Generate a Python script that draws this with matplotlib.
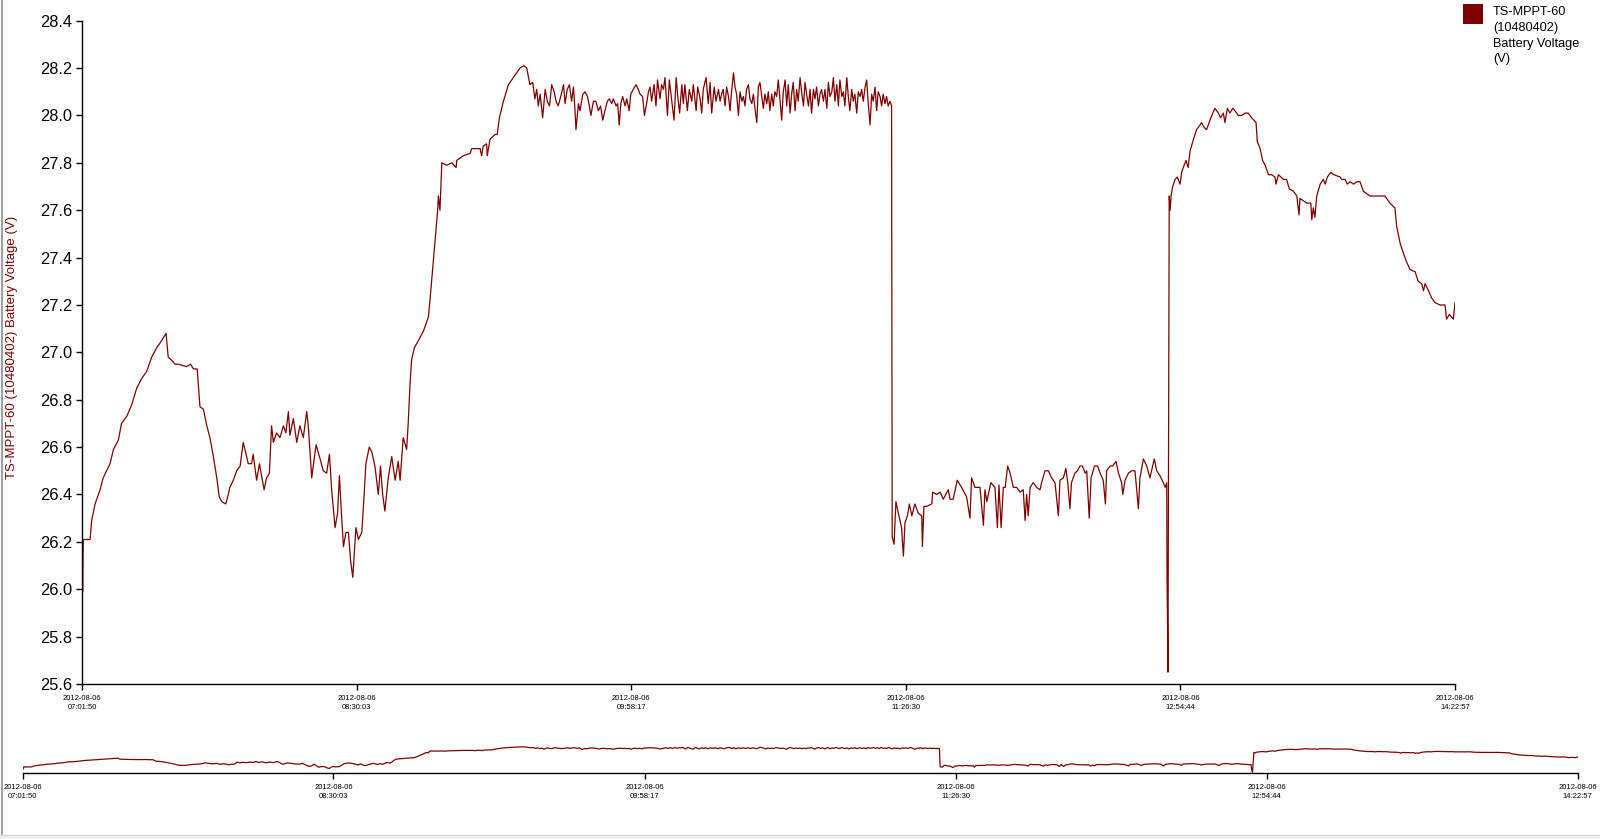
import pandas as pd
import numpy as np
import matplotlib
matplotlib.use("Agg")
import matplotlib.pyplot as plt
import matplotlib.dates as mdates
from matplotlib.patches import Rectangle
from matplotlib.lines import Line2D

plt.rcParams['font.family'] = ['Liberation Sans', 'DejaVu Sans']

series_name = "TS-MPPT-60 (10480402) Battery Voltage (V)"
start_time = "2012-08-06 07:01:50"
tick_times = ["2012-08-06 07:01:50", "2012-08-06 08:30:03", "2012-08-06 09:58:17",
              "2012-08-06 11:26:30", "2012-08-06 12:54:44", "2012-08-06 14:22:57"]

# minutes after 07:01:50
minutes = [
    0.0, 0.2, 0.4, 2.6, 3.1, 4.2, 5.8, 6.8, 9.0, 10.1, 11.7, 12.7, 14.4, 16.0, 17.6, 19.2,
    20.8, 22.4, 24.0, 25.1, 27.0, 27.7, 29.3, 29.9, 30.9, 33.6, 34.9, 35.8, 37.0, 37.9, 39.0,
    40.1, 41.1, 42.2, 43.3, 44.1, 44.9, 46.2, 47.0, 47.5, 48.6, 49.7, 50.8, 51.8, 52.9, 53.4,
    54.5, 55.0, 56.1, 57.0, 58.5, 59.3, 60.2, 60.9, 61.5, 62.5, 63.6, 64.7, 65.5, 66.3, 66.8,
    67.9, 69.0, 70.0, 71.1, 72.2, 72.7, 73.8, 75.2, 76.5, 77.5, 78.6, 79.5, 80.2, 81.3, 82.1,
    82.7, 83.4, 84.0, 84.8, 85.6, 86.3, 87.0, 88.0, 88.8, 89.9, 90.6, 91.2, 92.3, 93.1, 94.1,
    95.2, 95.9, 96.6, 97.3, 98.4, 99.5, 100.6, 101.6, 102.2, 103.2, 104.3, 104.8, 105.4, 105.9,
    106.8, 108.1, 109.7, 111.3, 111.8,
    113.4, 114.2, 114.5, 115.0, 115.6, 117.2, 118.8, 120.2, 120.4, 122.5, 124.7, 125.2, 127.9,
    128.4, 128.9, 130.0, 130.2, 131.1, 132.7, 133.4, 134.1, 135.4, 137.0, 138.6, 140.7, 142.0,
    142.9,
    143.9, 144.8, 145.5, 146.1, 146.6, 147.2, 148.0, 148.8, 149.5, 150.2, 150.9, 151.7, 152.3,
    153.0, 153.8, 154.7, 155.2, 155.9, 156.6, 157.3, 157.9, 158.4, 158.7, 159.5, 160.0, 160.9,
    161.6, 162.4, 163.0, 163.5, 164.3, 165.1, 165.9, 166.6, 167.3, 168.0, 168.8, 169.4, 170.2,
    170.7, 171.6, 172.1, 172.6, 173.1, 173.7, 174.5, 175.0, 175.8, 176.3, 177.1, 178.0, 178.7,
    179.3, 180.1, 180.7, 181.4, 182.0, 182.5, 183.0, 183.8, 184.4, 184.9, 185.7, 186.2, 186.8,
    187.3, 188.1, 188.7, 189.5, 190.2, 190.9, 191.4, 192.0, 192.7, 193.2, 193.7, 194.5, 195.1,
    195.9, 196.4, 197.3, 197.8, 198.6, 199.1, 199.6, 200.5, 201.2, 201.8, 202.3, 203.1, 203.7,
    204.5,
    205.0, 205.5, 206.0, 206.6, 207.1, 207.7, 208.2, 208.7, 209.3, 209.8, 210.3, 210.9, 211.4,
    212.0, 212.5, 213.0, 213.5, 214.1, 214.6, 215.2, 215.7, 216.2, 216.8, 217.3, 217.8, 218.4,
    218.9, 219.4, 220.0, 220.5, 221.0, 221.6, 222.1, 222.6, 223.2, 223.7, 224.3, 224.8, 225.3,
    225.9, 226.4, 226.9, 227.5, 228.0, 228.5, 229.1, 229.6, 230.1, 230.7, 231.2, 231.8, 232.3,
    232.8, 233.4, 233.9, 234.4, 235.0, 235.5, 236.0, 236.6, 237.1, 237.6, 238.2, 238.7, 239.3,
    239.8, 240.3, 240.9, 241.4, 241.9, 242.5, 243.0, 243.5, 244.1, 244.6, 245.1, 245.7, 246.2,
    246.7, 247.3, 247.8, 248.3, 248.9, 249.4, 250.0, 250.5, 251.0, 251.6, 252.1, 252.6, 253.2,
    253.7, 254.2, 254.8, 255.3, 255.8, 256.4, 256.9, 257.4, 258.0, 258.5, 259.0, 259.6, 260.1,
    260.3, 260.9, 261.5, 262.3, 263.3, 263.9, 264.4, 265.2, 265.8, 266.6, 267.6, 268.7, 269.8,
    270.0, 270.5, 271.4, 273.0, 273.3, 274.6, 275.7, 276.7, 278.3, 278.9, 279.9, 281.2, 282.6,
    284.2, 285.3, 285.8, 286.9, 288.5, 289.6, 290.1, 290.7, 292.0, 293.3, 294.1, 294.6, 295.3,
    296.0, 296.6, 297.4, 298.2, 299.2, 300.3, 301.4, 302.4, 303.0, 303.5, 304.0, 304.6, 305.6,
    306.7, 307.8, 308.3, 309.4, 310.5, 311.5, 312.6, 313.7, 314.2, 315.3, 316.1, 316.7, 317.4,
    317.9, 319.0, 319.8, 320.6, 321.4, 322.3, 322.8, 323.6, 324.2, 325.3, 326.3, 327.1, 328.1,
    328.8, 329.2, 330.3, 331.1, 332.2, 333.0, 334.0, 334.4, 335.1, 336.2, 337.2, 338.3, 339.4,
    339.9, 341.0, 342.1, 343.1, 344.5, 345.3, 346.3, 347.4, 348.0, 348.5, 348.6, 348.9,
    349.3, 349.6, 349.9, 350.4, 351.2, 351.9, 352.8, 353.3, 353.8, 354.7, 355.4, 356.0, 357.1,
    358.1, 359.2, 359.7, 360.5, 361.3, 362.4, 363.3, 364.0, 365.1, 365.8, 366.7, 367.2, 368.0,
    368.8, 369.7, 370.4, 371.5, 372.6, 373.7, 374.7, 375.8, 377.2, 377.6, 378.5, 379.3, 380.1,
    381.2, 382.2, 383.3, 383.6, 384.4, 386.0, 387.0, 387.9, 389.2, 390.3, 391.0, 391.3, 392.4,
    393.5, 394.8, 395.1, 395.6, 396.1, 396.7, 397.8, 398.8, 399.4, 400.1, 401.2, 402.2, 404.2,
    404.7, 405.8, 406.5, 407.4, 408.5, 409.5, 410.6, 411.7, 412.7, 413.8, 416.0, 418.6, 420.2,
    421.8, 422.4, 423.5, 424.5, 425.6, 426.7, 428.3, 429.3, 430.4, 431.0, 431.5, 432.6, 433.6,
    434.7, 436.3, 437.9, 438.4, 439.3, 440.6, 441.1,
]

volts = [
    26.21, 25.99, 26.21, 26.21, 26.29, 26.36, 26.42, 26.47, 26.53, 26.59, 26.63, 26.70, 26.73,
    26.78, 26.85, 26.89, 26.92, 26.98, 27.02, 27.04, 27.08, 26.98, 26.96, 26.95, 26.95, 26.94,
    26.95, 26.93, 26.93, 26.77, 26.76, 26.69, 26.64, 26.56, 26.47, 26.39, 26.37, 26.36, 26.40,
    26.43, 26.46, 26.50, 26.52, 26.62, 26.56, 26.53, 26.53, 26.57, 26.46, 26.53, 26.42, 26.47,
    26.49, 26.69, 26.62, 26.66, 26.64, 26.69, 26.66, 26.75, 26.65, 26.72, 26.62, 26.69, 26.64,
    26.75, 26.69, 26.47, 26.61, 26.55, 26.50, 26.49, 26.57, 26.42, 26.26, 26.32, 26.48, 26.31,
    26.18, 26.24, 26.24, 26.12, 26.05, 26.26, 26.21, 26.24, 26.39, 26.53, 26.60, 26.58, 26.52,
    26.40, 26.52, 26.40, 26.33, 26.47, 26.56, 26.46, 26.54, 26.46, 26.64, 26.59, 26.70, 26.87,
    26.97, 27.02, 27.05, 27.09, 27.15, 27.22,
    27.47, 27.59, 27.66, 27.60, 27.80, 27.79, 27.80, 27.78, 27.81, 27.83, 27.84, 27.86, 27.86,
    27.83, 27.87, 27.88, 27.83, 27.90, 27.92, 27.92, 27.99, 28.06, 28.13, 28.16, 28.20, 28.21,
    28.20,
    28.13, 28.14, 28.07, 28.11, 28.04, 28.09, 27.99, 28.11, 28.06, 28.04, 28.13, 28.10, 28.06,
    28.04, 28.08, 28.13, 28.05, 28.11, 28.13, 28.06, 28.12, 28.02, 27.94, 28.05, 28.02, 28.09,
    28.10, 28.08, 28.04, 28.00, 28.06, 28.06, 28.02, 28.04, 27.98, 28.02, 28.06, 28.07, 28.05,
    28.07, 28.04, 28.05, 27.96, 28.05, 28.08, 28.04, 28.07, 28.02, 28.09, 28.11, 28.13, 28.11,
    28.09, 28.08, 28.00, 28.05, 28.10, 28.12, 28.06, 28.13, 28.04, 28.15, 28.07, 28.13, 28.11,
    28.16, 28.00, 28.15, 28.06, 27.98, 28.16, 28.08, 28.01, 28.13, 28.05, 28.13, 28.02, 28.11,
    28.06, 28.13, 28.02, 28.12, 28.07, 28.01, 28.11, 28.16, 28.05, 28.14, 28.01, 28.12, 28.06,
    28.11,
    28.06, 28.09, 28.11, 28.04, 28.12, 28.08, 28.02, 28.10, 28.18, 28.12, 28.09, 28.00, 28.10,
    28.06, 28.08, 28.04, 28.11, 28.13, 28.07, 28.05, 28.09, 28.03, 27.97, 28.12, 28.14, 28.08,
    28.03, 28.09, 28.05, 28.10, 28.02, 28.09, 28.04, 28.10, 28.08, 28.15, 28.06, 27.98, 28.10,
    28.15, 28.04, 28.13, 28.01, 28.09, 28.14, 28.02, 28.11, 28.06, 28.16, 28.10, 28.04, 28.14,
    28.09, 28.04, 28.11, 28.01, 28.11, 28.07, 28.12, 28.04, 28.09, 28.11, 28.06, 28.11, 28.03,
    28.14, 28.08, 28.10, 28.16, 28.06, 28.13, 28.04, 28.15, 28.08, 28.10, 28.04, 28.16, 28.08,
    28.02, 28.11, 28.06, 28.09, 28.01, 28.10, 28.08, 28.11, 28.06, 28.12, 28.15, 28.05, 27.96,
    28.09, 28.06, 28.12, 28.02, 28.10, 28.08, 28.04, 28.09, 28.05, 28.08, 28.04, 28.06, 28.04,
    26.22, 26.19, 26.37, 26.32, 26.26, 26.14, 26.28, 26.31, 26.36, 26.31, 26.36, 26.32, 26.31,
    26.18, 26.35, 26.35, 26.36, 26.41, 26.40, 26.41, 26.38, 26.42, 26.38, 26.38, 26.46, 26.43,
    26.39, 26.30, 26.47, 26.43, 26.43, 26.27, 26.42, 26.37, 26.45, 26.43, 26.26, 26.44, 26.26,
    26.43, 26.43, 26.52, 26.49, 26.43, 26.43, 26.41, 26.42, 26.29, 26.40, 26.31, 26.43, 26.45,
    26.43, 26.42, 26.45, 26.50, 26.50, 26.47, 26.45, 26.31, 26.46, 26.47, 26.51, 26.45, 26.34,
    26.45, 26.49, 26.50, 26.52, 26.52, 26.49, 26.50, 26.30, 26.47, 26.52, 26.52, 26.49, 26.46,
    26.36, 26.50, 26.52, 26.52, 26.54, 26.49, 26.45, 26.40, 26.46, 26.49, 26.50, 26.50, 26.34,
    26.47, 26.55, 26.52, 26.47, 26.55, 26.50, 26.48, 26.45, 26.43, 26.45, 26.07, 25.65,
    27.66, 27.60, 27.66, 27.70, 27.73, 27.74, 27.71, 27.76, 27.78, 27.81, 27.78, 27.85, 27.90,
    27.94, 27.96, 27.97, 27.95, 27.94, 27.98, 28.01, 28.03, 28.01, 27.99, 28.01, 27.97, 28.03,
    28.01, 28.03, 28.02, 28.00, 28.00, 28.01, 28.01, 27.99, 27.97, 27.89, 27.86, 27.81, 27.79,
    27.75, 27.75, 27.74, 27.71, 27.75, 27.73, 27.73, 27.69, 27.68, 27.66, 27.58, 27.65, 27.64,
    27.63, 27.63, 27.56, 27.61, 27.57, 27.66, 27.71, 27.73, 27.71, 27.74, 27.76, 27.75, 27.74,
    27.73, 27.73, 27.71, 27.72, 27.71, 27.72, 27.72, 27.68, 27.67, 27.66, 27.66, 27.66, 27.63,
    27.61, 27.53, 27.46, 27.42, 27.38, 27.35, 27.34, 27.30, 27.29, 27.26, 27.29, 27.26, 27.23,
    27.21, 27.20, 27.20, 27.14, 27.16, 27.14, 27.21,
]

line_color = '#800000'
W, H = 1600, 839

t0 = pd.Timestamp(start_time)
times = t0 + pd.to_timedelta(minutes, unit='min')
ticks = pd.to_datetime(tick_times)

fig = plt.figure(figsize=(W / 100, H / 100), dpi=100)
fig.patch.set_facecolor('white')

# main chart
ax = fig.add_axes([82 / W, 1 - 684 / H, (1455 - 82) / W, (684 - 20.7) / H])
ax.plot(times, volts, color=line_color, lw=0.9)
ax.set_xlim(ticks[0], ticks[-1])
ax.set_ylim(25.6, 28.4)
ax.set_yticks(np.arange(25.6, 28.41, 0.2))
ax.yaxis.set_major_formatter(matplotlib.ticker.FormatStrFormatter('%.1f'))
ax.set_xticks(ticks)
ax.xaxis.set_major_formatter(mdates.DateFormatter('%Y-%m-%d\n%H:%M:%S'))
ax.spines['top'].set_visible(False)
ax.spines['right'].set_visible(False)
for s in ('left', 'bottom'):
    ax.spines[s].set_linewidth(1.0)
ax.tick_params(axis='y', length=4, width=1, labelsize=11.8, pad=3, colors='black')
ax.tick_params(axis='x', length=4, width=1, labelsize=5.5, pad=4)
for lab in ax.get_xticklabels():
    lab.set_linespacing(1.4)

# overview strip
ax2 = fig.add_axes([22.5 / W, 1 - 773 / H, (1577.6 - 22.5) / W, 28 / H])
ax2.plot(times, volts, color=line_color, lw=0.9)
ax2.set_xlim(ticks[0], ticks[-1])
ax2.set_ylim(25.6, 28.4)
ax2.set_yticks([])
ax2.set_xticks(ticks)
ax2.xaxis.set_major_formatter(mdates.DateFormatter('%Y-%m-%d\n%H:%M:%S'))
for s in ('top', 'right', 'left'):
    ax2.spines[s].set_visible(False)
ax2.spines['bottom'].set_linewidth(1.0)
ax2.tick_params(axis='x', length=4, width=1, labelsize=5.5, pad=4)
for lab in ax2.get_xticklabels():
    lab.set_linespacing(1.4)
ax2.patch.set_alpha(0)

# y label
fig.text(12 / W, 1 - 347 / H, series_name, rotation=90, ha='center', va='center',
         fontsize=9.5, color=line_color)

# legend
fig.patches.append(Rectangle((1463 / W, 1 - 24 / H), 20 / W, 20 / H,
                             transform=fig.transFigure, facecolor=line_color,
                             edgecolor='none'))
fig.text(1493 / W, 1 - 6 / H, "TS-MPPT-60\n(10480402)\nBattery Voltage\n(V)",
         ha='left', va='top', fontsize=9.2, linespacing=1.42, color='black')

# window frame
fig.add_artist(Line2D([2 / W, 2 / W], [1 - 835 / H, 1], transform=fig.transFigure,
                      color='#a0a0a0', lw=1.5))
fig.patches.append(Rectangle((0, 0), 1, 4 / H, transform=fig.transFigure,
                             facecolor='#f0f0f0', edgecolor='none'))
fig.add_artist(Line2D([0, 1], [4 / H, 4 / H], transform=fig.transFigure,
                      color='#d8d8d8', lw=1))

fig.savefig('out.png', dpi=100)
